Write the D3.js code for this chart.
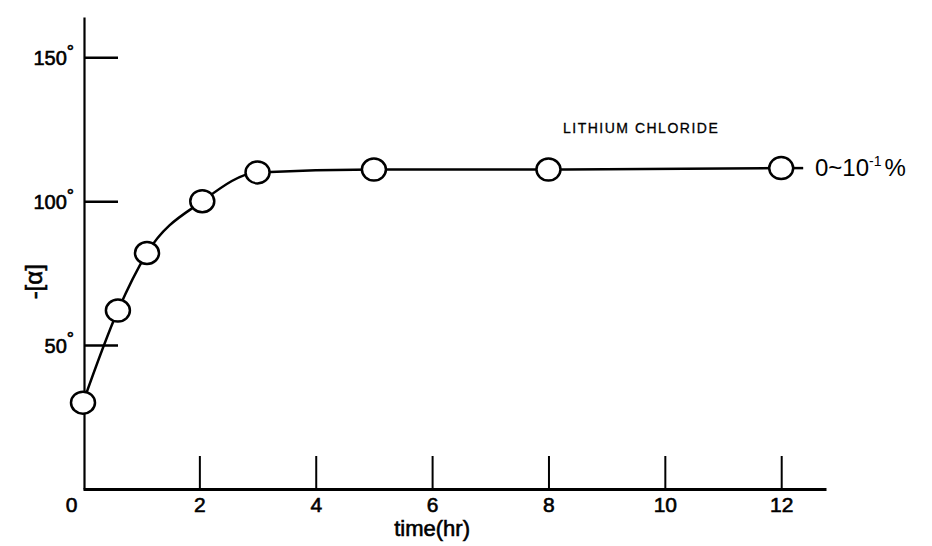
<!DOCTYPE html>
<html>
<head>
<meta charset="utf-8">
<script src="https://cdn.jsdelivr.net/npm/d3@7"></script>
<style>
  html, body { margin: 0; padding: 0; background: #fff; }
  svg { display: block; }
  text { font-family: "Liberation Sans", "DejaVu Sans", sans-serif; fill: #000; }
</style>
</head>
<body>
<svg id="chart" width="932" height="546"></svg>
<script>
// Specific rotation of the sample over time in lithium chloride solution
const hours    = [0, 0.6, 1.1, 2.05, 3.0, 5.0, 8.0, 12.0];
const rotation = [30, 62, 82, 100, 110, 111, 111, 111.5];
const xTicks   = [0, 2, 4, 6, 8, 10, 12];
const yTicks   = [50, 100, 150];
const seriesLabel = "LITHIUM CHLORIDE";
const rangeLabel  = ["0~10", "-1", "%"];

const svg = d3.select("#chart");

const x = d3.scaleLinear().domain([0, 12.77]).range([83, 826]);
const y = d3.scaleLinear().domain([0, 164]).range([489, 17]);

// x axis: ticks rise from the baseline
const xAxis = svg.append("g")
  .attr("transform", `translate(0,${y(0)})`)
  .call(d3.axisBottom(x).tickValues(xTicks).tickSize(-33).tickSizeOuter(0)
        .tickPadding(8).tickFormat(d3.format("d")));
xAxis.select(".domain").attr("stroke", "#000").attr("stroke-width", 3);
xAxis.selectAll(".tick line").attr("stroke", "#000").attr("stroke-width", 2)
  .filter(d => d === 0).remove();
xAxis.selectAll(".tick text").attr("font-size", 21)
  .attr("stroke", "#000").attr("stroke-width", 0.6)
  .attr("dx", d => d === 0 ? -12 : 0);

// y axis: ticks extend to the right, labels on the left
const yAxis = svg.append("g")
  .attr("transform", `translate(${x(0) + 1},0)`)
  .call(d3.axisLeft(y).tickValues(yTicks).tickSize(-34).tickSizeOuter(0)
        .tickPadding(10).tickFormat(""));
yAxis.select(".domain").attr("stroke", "#000").attr("stroke-width", 2.2);
yAxis.selectAll(".tick line").attr("stroke", "#000").attr("stroke-width", 2.5);
yAxis.selectAll(".tick").each(function(d) {
  const t = d3.select(this).append("text")
    .attr("x", -10).attr("dy", "0.35em")
    .attr("text-anchor", "end").attr("font-size", 20)
    .attr("stroke", "#000").attr("stroke-width", 0.6);
  t.append("tspan").text(d3.format("d")(d));
  t.append("tspan").attr("font-size", 18).attr("dy", "-0.4em").text("°");
});

// axis titles
svg.append("text")
  .attr("transform", `translate(42,${y(72)}) rotate(-90)`)
  .attr("text-anchor", "middle").attr("font-size", 24)
  .attr("stroke", "#000").attr("stroke-width", 0.6)
  .text("-[α]");
svg.append("text")
  .attr("x", x(6)).attr("y", 536)
  .attr("text-anchor", "middle").attr("font-size", 22)
  .attr("stroke", "#000").attr("stroke-width", 0.6)
  .text("time(hr)");

// smooth curve through the measurements
const pts = hours.map((h, i) => [x(h), y(rotation[i])]);
const line = d3.line().curve(d3.curveMonotoneX);
svg.append("path")
  .attr("d", line(pts))
  .attr("fill", "none").attr("stroke", "#000").attr("stroke-width", 2.5);

// short tail continuing past the last reading
const last = pts[pts.length - 1];
svg.append("line")
  .attr("x1", last[0]).attr("x2", last[0] + 22)
  .attr("y1", last[1]).attr("y2", last[1])
  .attr("stroke", "#000").attr("stroke-width", 2.5);

// open circle markers
svg.append("g").selectAll("ellipse")
  .data(pts)
  .join("ellipse")
  .attr("cx", d => d[0]).attr("cy", d => d[1])
  .attr("rx", 12).attr("ry", 11)
  .attr("fill", "#fff").attr("stroke", "#000").attr("stroke-width", 2.5);

// series annotations
svg.append("text")
  .attr("x", 563).attr("y", 133)
  .attr("font-size", 14).attr("letter-spacing", 1.5)
  .attr("stroke", "#000").attr("stroke-width", 0.3)
  .text(seriesLabel);

const r = svg.append("text")
  .attr("x", 815).attr("y", last[1] + 8)
  .attr("font-size", 24);
r.append("tspan").text(rangeLabel[0]);
r.append("tspan").attr("font-size", 14).attr("dy", "-0.75em").text(rangeLabel[1]);
r.append("tspan").attr("dy", "0.45em").attr("dx", 3).text(rangeLabel[2]);
</script>
</body>
</html>
